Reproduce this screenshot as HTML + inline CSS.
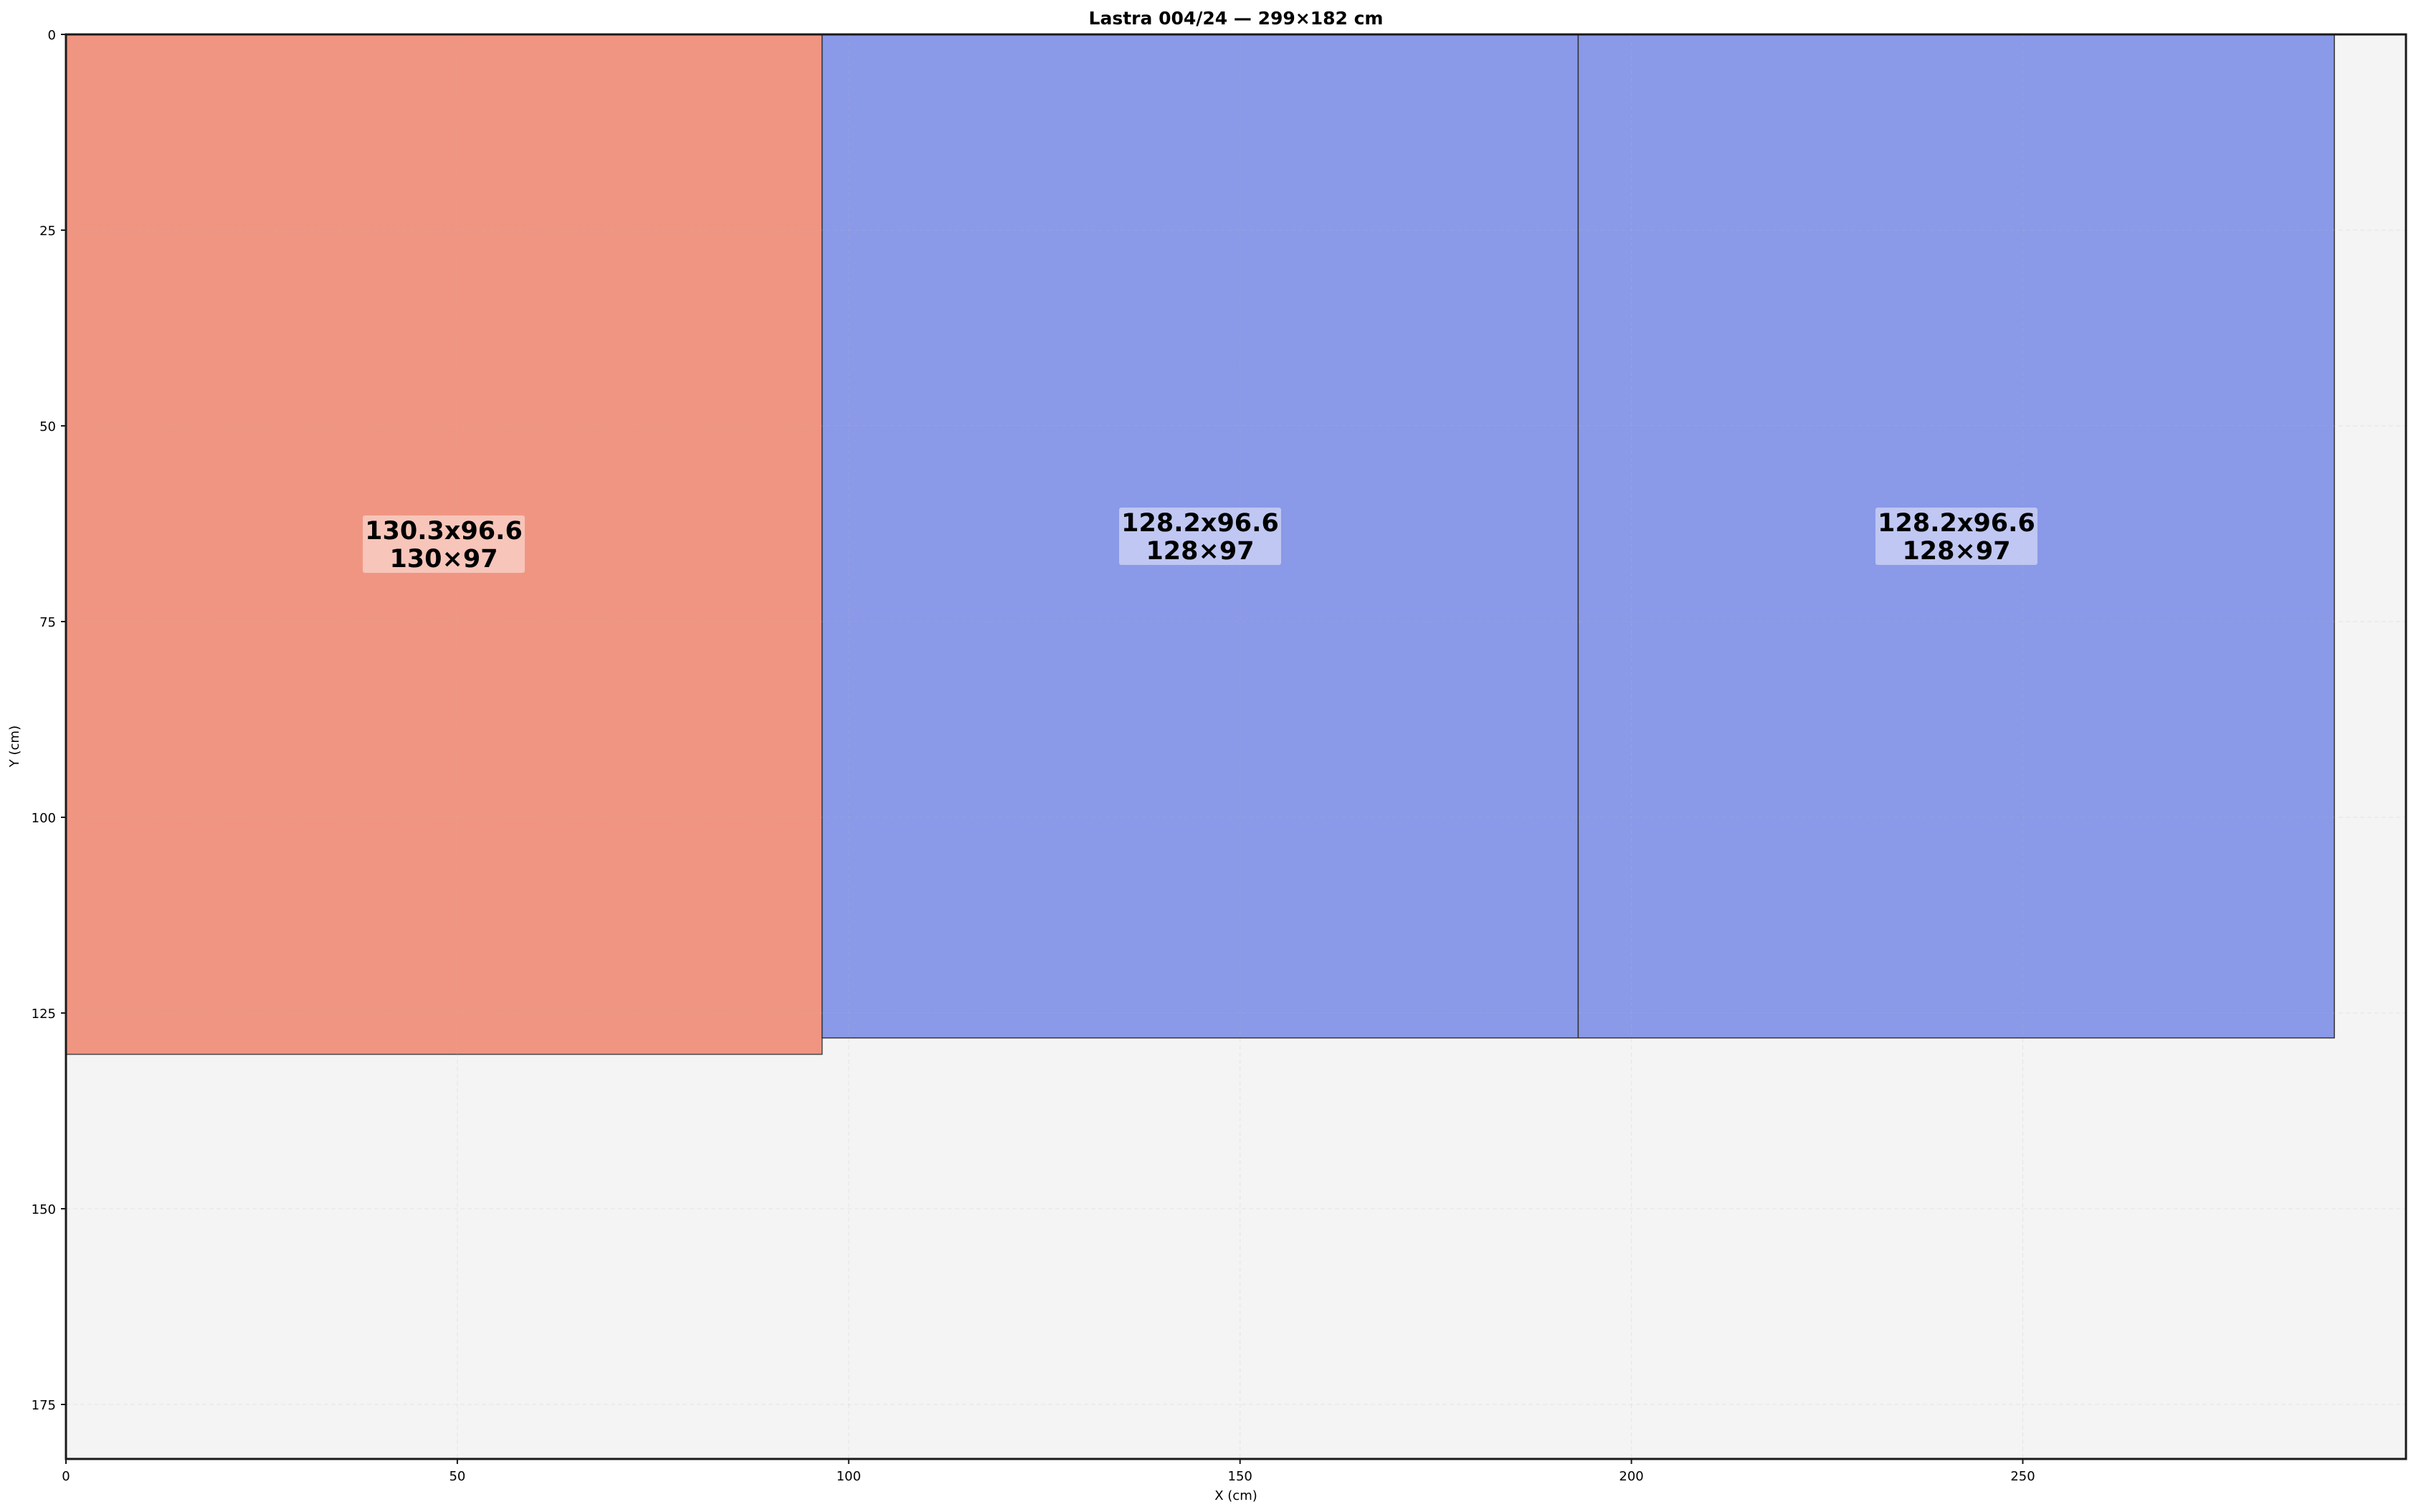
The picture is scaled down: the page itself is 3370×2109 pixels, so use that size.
<!DOCTYPE html>
<html><head><meta charset="utf-8"><style>html,body{margin:0;padding:0;background:#fff}svg{display:block}</style></head>
<body>
<svg width="3370" height="2109" viewBox="0 0 3370 2109" xmlns="http://www.w3.org/2000/svg" font-family="'DejaVu Sans','Liberation Sans',sans-serif">
<rect x="0" y="0" width="3370" height="2109" fill="#fff"/>
<rect x="92" y="48" width="3264" height="1987" fill="#f4f4f4"/>
<rect x="92" y="48" width="1054.7" height="1422.6" fill="#f09582" stroke="#444" stroke-width="1.5"/>
<rect x="1146.7" y="48" width="1054.7" height="1399.7" fill="#8a99e8" stroke="#333" stroke-width="1.5"/>
<rect x="2201.4" y="48" width="1054.7" height="1399.7" fill="#8a99e8" stroke="#333" stroke-width="1.5"/>
<g stroke="#bbb" stroke-opacity="0.22" stroke-width="1.2" stroke-dasharray="6,4">
<line x1="637.9" y1="48" x2="637.9" y2="2035"/><line x1="1183.8" y1="48" x2="1183.8" y2="2035"/><line x1="1729.7" y1="48" x2="1729.7" y2="2035"/><line x1="2275.6" y1="48" x2="2275.6" y2="2035"/><line x1="2821.5" y1="48" x2="2821.5" y2="2035"/>
<line x1="92" y1="321" x2="3356" y2="321"/><line x1="92" y1="594" x2="3356" y2="594"/><line x1="92" y1="867" x2="3356" y2="867"/><line x1="92" y1="1140" x2="3356" y2="1140"/><line x1="92" y1="1413" x2="3356" y2="1413"/><line x1="92" y1="1686" x2="3356" y2="1686"/><line x1="92" y1="1959" x2="3356" y2="1959"/>
</g>
<g font-weight="bold" font-size="35" text-anchor="middle" fill="#000">
<rect x="506" y="719" width="226" height="80" rx="3" fill="#fff" fill-opacity="0.45"/>
<text x="619" y="752">130.3x96.6</text><text x="619" y="791">130×97</text>
<rect x="1561" y="708" width="226" height="80" rx="3" fill="#fff" fill-opacity="0.45"/>
<text x="1674" y="741">128.2x96.6</text><text x="1674" y="780">128×97</text>
<rect x="2616" y="708" width="226" height="80" rx="3" fill="#fff" fill-opacity="0.45"/>
<text x="2729" y="741">128.2x96.6</text><text x="2729" y="780">128×97</text>
</g>
<rect x="92" y="48" width="3264" height="1987" fill="none" stroke="#1a1a1a" stroke-width="3"/>
<g stroke="#1a1a1a" stroke-width="2">
<line x1="92" y1="2035" x2="92" y2="2042"/><line x1="637.9" y1="2035" x2="637.9" y2="2042"/><line x1="1183.8" y1="2035" x2="1183.8" y2="2042"/><line x1="1729.7" y1="2035" x2="1729.7" y2="2042"/><line x1="2275.6" y1="2035" x2="2275.6" y2="2042"/><line x1="2821.5" y1="2035" x2="2821.5" y2="2042"/>
<line x1="85" y1="48" x2="92" y2="48"/><line x1="85" y1="321" x2="92" y2="321"/><line x1="85" y1="594" x2="92" y2="594"/><line x1="85" y1="867" x2="92" y2="867"/><line x1="85" y1="1140" x2="92" y2="1140"/><line x1="85" y1="1413" x2="92" y2="1413"/><line x1="85" y1="1686" x2="92" y2="1686"/><line x1="85" y1="1959" x2="92" y2="1959"/>
</g>
<g font-size="18" fill="#000" text-anchor="middle">
<text x="92" y="2065">0</text><text x="637.9" y="2065">50</text><text x="1183.8" y="2065">100</text><text x="1729.7" y="2065">150</text><text x="2275.6" y="2065">200</text><text x="2821.5" y="2065">250</text>
<text x="1724" y="2092">X (cm)</text>
</g>
<g font-size="18" fill="#000" text-anchor="end">
<text x="78" y="55">0</text><text x="78" y="328">25</text><text x="78" y="601">50</text><text x="78" y="874">75</text><text x="78" y="1147">100</text><text x="78" y="1420">125</text><text x="78" y="1693">150</text><text x="78" y="1966">175</text>
</g>
<text x="26" y="1041" font-size="18" text-anchor="middle" transform="rotate(-90 26 1041)">Y (cm)</text>
<text x="1724" y="34" font-size="25" font-weight="bold" text-anchor="middle">Lastra 004/24 — 299×182 cm</text>
</svg>
</body></html>
